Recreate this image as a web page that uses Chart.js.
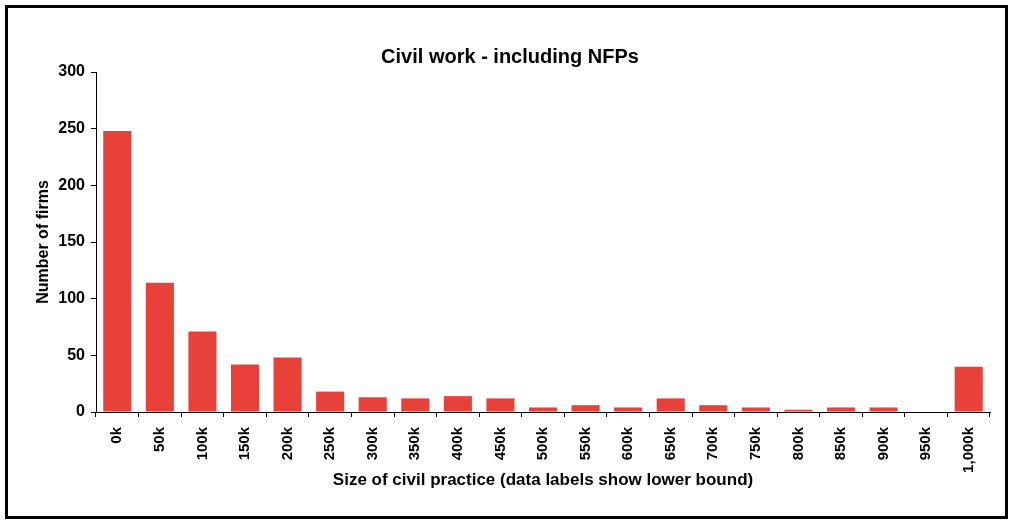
<!DOCTYPE html>
<html>
<head>
<meta charset="utf-8">
<script src="https://cdn.jsdelivr.net/npm/chart.js@4"></script>
<style>
    body { margin: 0; background: #fff; }
    #frame {
        position: absolute;
        left: 5px;
        top: 5px;
        width: 997px;
        height: 508px;
        border: 3px solid #000;
    }
    #chart { position: absolute; left: 0; top: 0; }
</style>
</head>
<body>
<div id="frame"></div>
<canvas id="chart" width="1011" height="521"></canvas>
<script>
const sizeBands = ["0k", "50k", "100k", "150k", "200k", "250k", "300k", "350k", "400k", "450k",
    "500k", "550k", "600k", "650k", "700k", "750k", "800k", "850k", "900k", "950k", "1,000k"];
const firmCounts = [248, 114, 71, 42, 48, 18, 13, 12, 14, 12,
    4, 6, 4, 12, 6, 4, 2, 4, 4, 0, 40];
const yTicks = [0, 50, 100, 150, 200, 250, 300];

const font = "'Liberation Sans', Arial, sans-serif";

document.addEventListener("DOMContentLoaded", () => {
    const ctx = document.getElementById("chart").getContext("2d");

    new Chart(ctx, {
        type: "bar",
        data: {
            labels: sizeBands,
            datasets: [{
                data: firmCounts,
                backgroundColor: "#E8413A",
                categoryPercentage: 0.66,
                barPercentage: 1
            }]
        },
        options: {
            responsive: false,
            animation: false,
            layout: { padding: { left: 30, right: 21, top: 40, bottom: 26 } },
            plugins: {
                legend: { display: false },
                tooltip: { enabled: false },
                title: {
                    display: true,
                    text: "Civil work - including NFPs",
                    color: "#000",
                    font: { family: font, size: 20, weight: "bold" },
                    padding: { top: 5, bottom: 3 }
                }
            },
            scales: {
                x: {
                    afterFit(scale) { scale.height = 83; },
                    border: { color: "#000", width: 1 },
                    grid: { display: true, drawOnChartArea: false, drawTicks: true, tickLength: 5, color: "#000" },
                    ticks: {
                        color: "#000",
                        minRotation: 90,
                        maxRotation: 90,
                        autoSkip: false,
                        padding: 10,
                        font: { family: font, size: 15, weight: "bold" }
                    },
                    title: {
                        display: true,
                        text: "Size of civil practice (data labels show lower bound)",
                        color: "#000",
                        font: { family: font, size: 17, weight: "bold" }
                    }
                },
                y: {
                    min: 0,
                    max: 300,
                    afterFit(scale) { scale.width = 66; },
                    afterBuildTicks(scale) { scale.ticks = yTicks.map((v) => ({ value: v })); },
                    border: { color: "#000", width: 1 },
                    grid: { display: true, drawOnChartArea: false, drawTicks: true, tickLength: 5, color: "#000" },
                    ticks: {
                        color: "#000",
                        padding: 6,
                        font: { family: font, size: 16, weight: "bold" }
                    },
                    title: {
                        display: true,
                        text: "Number of firms",
                        color: "#000",
                        font: { family: font, size: 16, weight: "bold" }
                    }
                }
            }
        }
    });
});
</script>
</body>
</html>
